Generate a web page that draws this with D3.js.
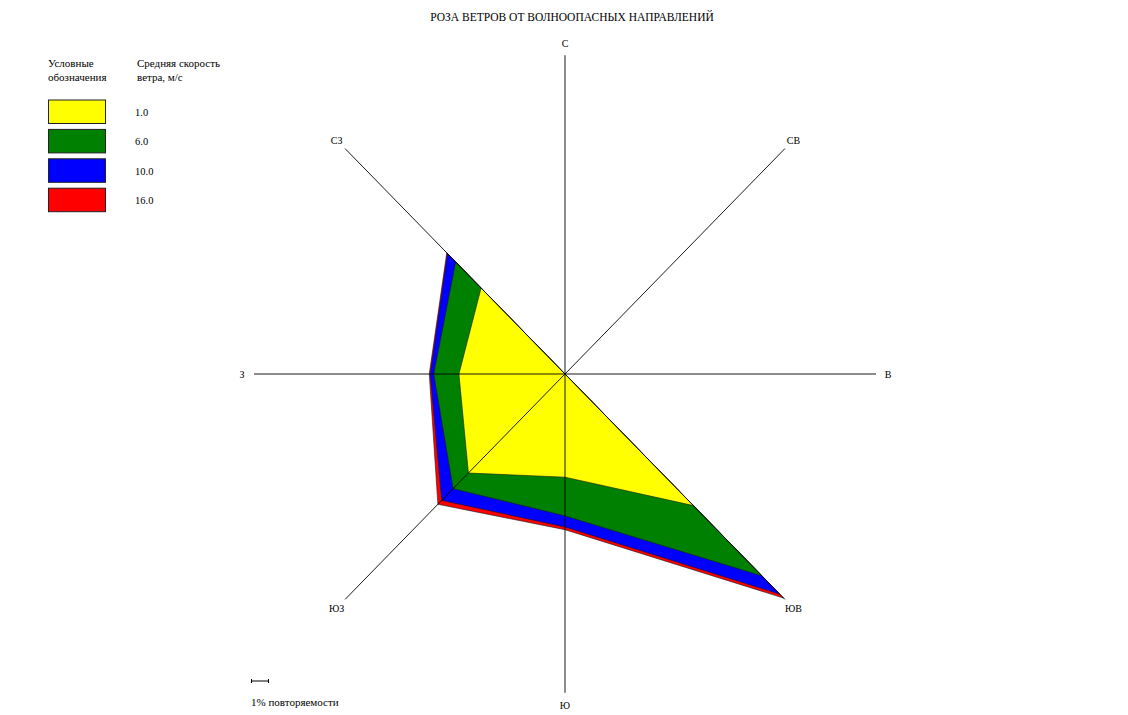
<!DOCTYPE html>
<html><head><meta charset="utf-8">
<script src="https://cdn.jsdelivr.net/npm/d3@7"></script>
<style>
html,body{margin:0;padding:0;background:#fff;}
svg{display:block;}
text{font-family:"Liberation Serif","Times New Roman",serif;fill:#000;}
</style></head>
<body>
<svg id="chart" width="1128" height="715"></svg>
<script>
// ---- data ----
const title = "РОЗА ВЕТРОВ ОТ ВОЛНООПАСНЫХ НАПРАВЛЕНИЙ";
const directions = ["С","СВ","В","ЮВ","Ю","ЮЗ","З","СЗ"];
const speedLabels = ["1.0","6.0","10.0","16.0"];
const speedColors = ["#ffff00","#008000","#0000ff","#ff0000"];
// repeatability (%) per direction for each mean wind-speed class
const share_1  = [0, 0, 0, 10.1, 5.6, 7.6, 5.9, 6.6];
const share_6  = [0, 0, 0, 5.4, 2.1, 1.2, 1.4, 2.0];
const share_10 = [0, 0, 0, 1.4, 0.6, 0.9, 0.2, 0.65];
const share_16 = [0, 0, 0, 0.3, 0.15, 0.3, 0.05, 0.05];
const seriesValues = [share_1, share_6, share_10, share_16];
const axisMaxPercent = 17.3;
const scaleBarPercent = 1;

// ---- layout ----
const svg = d3.select("#chart");
const cx = 565, cy = 374, R = 311, ky = 1.025;
const r = d3.scaleLinear().domain([0, axisMaxPercent]).range([0, R]);
const angle = d3.scalePoint().domain(directions).range([0, 2*Math.PI*7/8]);
const px = (d, v) => cx + r(v)*Math.sin(angle(d));
const py = (d, v) => cy - r(v)*Math.cos(angle(d))*ky;

// cumulative stacking
const cum = [];
seriesValues.forEach((s, i) => {
  cum.push(s.map((v, j) => v + (i ? cum[i-1][j] : 0)));
});

// title
svg.append("text").attr("x", cx + 7).attr("y", 21).attr("text-anchor","middle")
  .style("font-size","11.5px").text(title);

// polygons: outermost first
const line = d3.line().curve(d3.curveLinearClosed);
for (let i = cum.length - 1; i >= 0; i--) {
  const pts = directions.map((d, j) => [px(d, cum[i][j]), py(d, cum[i][j])]);
  svg.append("path").attr("d", line(pts))
    .attr("fill", speedColors[i]).attr("stroke","#1a1a1a").attr("stroke-width",0.6)
    .attr("stroke-linejoin","miter");
}

// axes
directions.forEach(d => {
  svg.append("line")
    .attr("x1", cx).attr("y1", cy)
    .attr("x2", px(d, axisMaxPercent)).attr("y2", py(d, axisMaxPercent))
    .attr("stroke","#000").attr("stroke-width",0.9);
  const lr = axisMaxPercent * (R + 12) / R;
  svg.append("text").attr("x", px(d, lr)).attr("y", py(d, lr) + 4)
    .attr("text-anchor","middle").style("font-size","10px").text(d);
});

// legend
const lg = svg.append("g");
lg.append("text").attr("x",48).attr("y",67).style("font-size","11px").text("Условные");
lg.append("text").attr("x",48).attr("y",81).style("font-size","11px").text("обозначения");
lg.append("text").attr("x",137).attr("y",67).style("font-size","11px").text("Средняя скорость");
lg.append("text").attr("x",137).attr("y",81).style("font-size","11px").text("ветра, м/с");
speedLabels.forEach((s, i) => {
  const y = 100 + i*29.4;
  lg.append("rect").attr("x",48.5).attr("y",y).attr("width",57).attr("height",23.5)
    .attr("fill", speedColors[i]).attr("stroke","#222").attr("stroke-width",1);
  lg.append("text").attr("x",135).attr("y",y+16).style("font-size","10.5px").text(s);
});

// scale bar
const sb0 = 251, sbY = 681, sbLen = r(scaleBarPercent);
svg.append("line").attr("x1",sb0).attr("x2",sb0+sbLen).attr("y1",sbY).attr("y2",sbY).attr("stroke","#000");
svg.append("line").attr("x1",sb0+0.5).attr("x2",sb0+0.5).attr("y1",sbY-2).attr("y2",sbY+2).attr("stroke","#000");
svg.append("line").attr("x1",sb0+sbLen-0.5).attr("x2",sb0+sbLen-0.5).attr("y1",sbY-2).attr("y2",sbY+2).attr("stroke","#000");
svg.append("text").attr("x",251).attr("y",706).style("font-size","11px").text("1% повторяемости");
</script>
</body></html>
